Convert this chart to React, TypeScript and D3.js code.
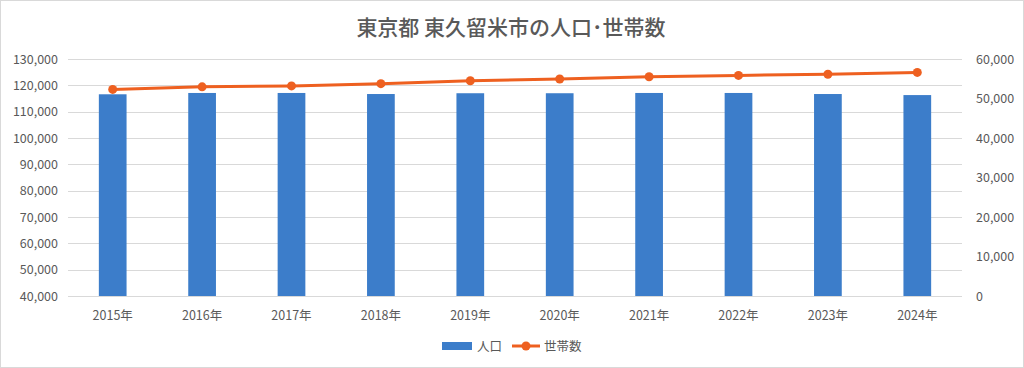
import { useRef, useEffect } from 'react';
import * as d3 from 'd3';

const years = ['2015年', '2016年', '2017年', '2018年', '2019年', '2020年', '2021年', '2022年', '2023年', '2024年'];
const population = [116600, 117100, 117100, 116700, 117000, 117000, 117100, 117100, 116700, 116300];
const households = [52300, 52950, 53180, 53750, 54500, 54950, 55500, 55850, 56150, 56600];
const leftTicks = [40000, 50000, 60000, 70000, 80000, 90000, 100000, 110000, 120000, 130000];
const rightTicks = [0, 10000, 20000, 30000, 40000, 50000, 60000];

const W = 1024;
const H = 368;
const MARGIN = { top: 59, right: 62, bottom: 72, left: 68 };
const FONT = '"Noto Sans CJK JP", "Noto Sans", sans-serif';
const TEXT = '#595959';
const BAR = '#3c7dca';
const LINE = '#ee6020';

export default function App() {
  const svgRef = useRef<SVGSVGElement>(null);

  useEffect(() => {
    if (!svgRef.current) return;
    const svg = d3.select(svgRef.current);
    svg.selectAll('*').remove();

    const x0 = MARGIN.left;
    const x1 = W - MARGIN.right;
    const yTop = MARGIN.top;
    const yBot = H - MARGIN.bottom;

    // outer border
    svg.append('rect')
      .attr('x', 0.5).attr('y', 0.5)
      .attr('width', W - 1).attr('height', H - 1)
      .attr('fill', '#fff').attr('stroke', '#d9d9d9');

    svg.append('text')
      .attr('x', 511).attr('y', 35)
      .attr('text-anchor', 'middle')
      .attr('font-family', FONT)
      .attr('font-size', '21px')
      .attr('font-weight', 500)
      .attr('fill', TEXT)
      .text('東京都 東久留米市の人口･世帯数');

    const x = d3.scaleBand<string>().domain(years).range([x0, x1]).paddingInner(0.69).paddingOuter(0.345);
    const xc = (d: string) => (x(d) ?? 0) + x.bandwidth() / 2;
    const yL = d3.scaleLinear().domain([40000, 130000]).range([yBot, yTop]);
    const yR = d3.scaleLinear().domain([0, 60000]).range([yBot, yTop]);

    // gridlines
    svg.append('g').selectAll('line').data(leftTicks).join('line')
      .attr('x1', x0).attr('x2', x1)
      .attr('y1', (d) => Math.round(yL(d)) + 0.5).attr('y2', (d) => Math.round(yL(d)) + 0.5)
      .attr('stroke', '#d9d9d9').attr('stroke-width', 1);

    // left axis labels
    svg.append('g').selectAll('text').data(leftTicks).join('text')
      .attr('x', x0 - 10).attr('y', (d) => yL(d) + 4.5)
      .attr('text-anchor', 'end')
      .attr('font-family', FONT).attr('font-size', '12.5px').attr('fill', TEXT)
      .text((d) => d3.format(',')(d));

    // right axis labels
    svg.append('g').selectAll('text').data(rightTicks).join('text')
      .attr('x', x1 + 14).attr('y', (d) => yR(d) + 4.5)
      .attr('text-anchor', 'start')
      .attr('font-family', FONT).attr('font-size', '12.5px').attr('fill', TEXT)
      .text((d) => d3.format(',')(d));

    // bars
    svg.append('g').selectAll('rect').data(population).join('rect')
      .attr('x', (_, i) => x(years[i]) ?? 0)
      .attr('width', x.bandwidth())
      .attr('y', (d) => yL(d))
      .attr('height', (d) => yBot - yL(d))
      .attr('fill', BAR);

    // x labels
    svg.append('g').selectAll('text').data(years).join('text')
      .attr('x', (d) => xc(d)).attr('y', yBot + 24)
      .attr('text-anchor', 'middle')
      .attr('font-family', FONT).attr('font-size', '12.5px').attr('fill', TEXT)
      .text((d) => d);

    // households line
    const line = d3.line<number>().x((_, i) => xc(years[i])).y((d) => yR(d));
    svg.append('path').datum(households)
      .attr('d', line)
      .attr('fill', 'none').attr('stroke', LINE).attr('stroke-width', 3)
      .attr('stroke-linejoin', 'round').attr('stroke-linecap', 'round');
    svg.append('g').selectAll('circle').data(households).join('circle')
      .attr('cx', (_, i) => xc(years[i])).attr('cy', (d) => yR(d))
      .attr('r', 4.5).attr('fill', LINE);

    // legend
    const ly = 346;
    svg.append('rect').attr('x', 442).attr('y', ly - 4).attr('width', 30).attr('height', 8).attr('fill', BAR);
    svg.append('text').attr('x', 477).attr('y', ly + 5)
      .attr('font-family', FONT).attr('font-size', '12.5px').attr('fill', TEXT).text('人口');
    svg.append('line').attr('x1', 512).attr('x2', 540).attr('y1', ly).attr('y2', ly)
      .attr('stroke', LINE).attr('stroke-width', 3);
    svg.append('circle').attr('cx', 526).attr('cy', ly).attr('r', 4.5).attr('fill', LINE);
    svg.append('text').attr('x', 544).attr('y', ly + 5)
      .attr('font-family', FONT).attr('font-size', '12.5px').attr('fill', TEXT).text('世帯数');
  }, []);

  return (
    <svg ref={svgRef} width={W} height={H} style={{ position: 'absolute', left: 0, top: 0 }} />
  );
}
